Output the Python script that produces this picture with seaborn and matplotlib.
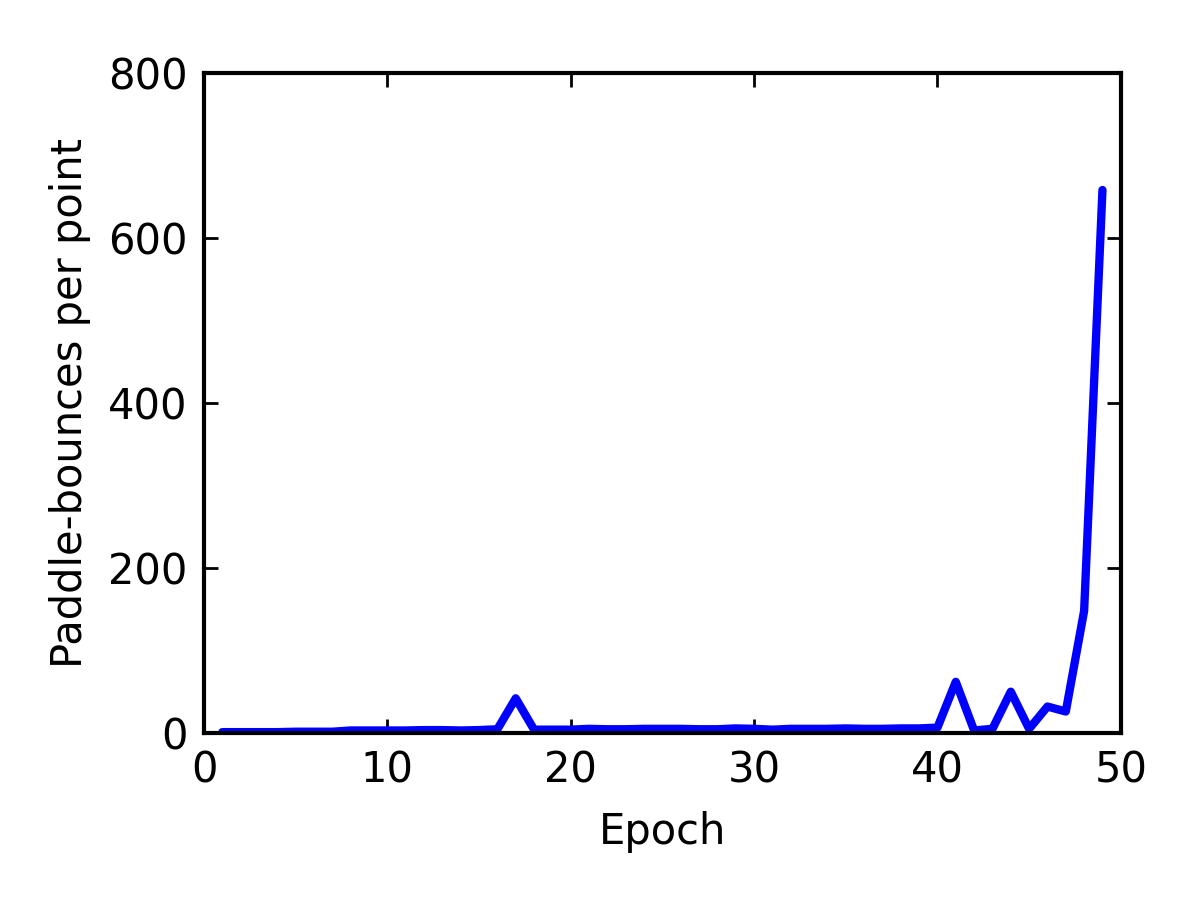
import matplotlib

matplotlib.use("Agg")

import matplotlib.pyplot as plt
import pandas as pd
import seaborn as sns


epochs = list(range(1, 50))
bounces = [
    1, 1, 1, 1, 1.5, 1.5, 1.5, 3, 3, 3,
    3, 3.5, 3.5, 3, 3.5, 4.5, 42, 4, 4, 4,
    5, 4.5, 4.5, 5, 5, 5, 4.5, 4.5, 5.5, 5,
    4, 5, 5, 5, 5.5, 5, 5, 5.5, 5.5, 6.5,
    62, 3, 5, 50, 5, 32, 26, 148, 658,
]

df = pd.DataFrame({"Epoch": epochs, "Bounces": bounces})

sns.set_theme(style="ticks")
plt.rcParams["font.family"] = ["DejaVu Sans"]
plt.rcParams["text.color"] = "black"
plt.rcParams["axes.labelcolor"] = "black"

fig, ax = plt.subplots(figsize=(6, 4.5), dpi=200)
fig.subplots_adjust(left=0.17, right=0.934, top=0.919, bottom=0.1856)

sns.lineplot(data=df, x="Epoch", y="Bounces", color="#0000ff", linewidth=3.0, ax=ax)

ax.set_xlim(0, 50)
ax.set_ylim(0, 800)
ax.set_xticks([0, 10, 20, 30, 40, 50])
ax.set_yticks([0, 200, 400, 600, 800])
ax.set_xlabel("Epoch", fontsize=15, labelpad=7)
ax.set_ylabel("Paddle-bounces per point", fontsize=15, labelpad=6)
ax.tick_params(direction="in", top=True, right=True, length=5, width=1, labelsize=15, pad=6, colors="black")
for side in ax.spines.values():
    side.set_visible(True)
    side.set_linewidth(1.5)
    side.set_color("black")

fig.savefig("out.png", dpi=200)
